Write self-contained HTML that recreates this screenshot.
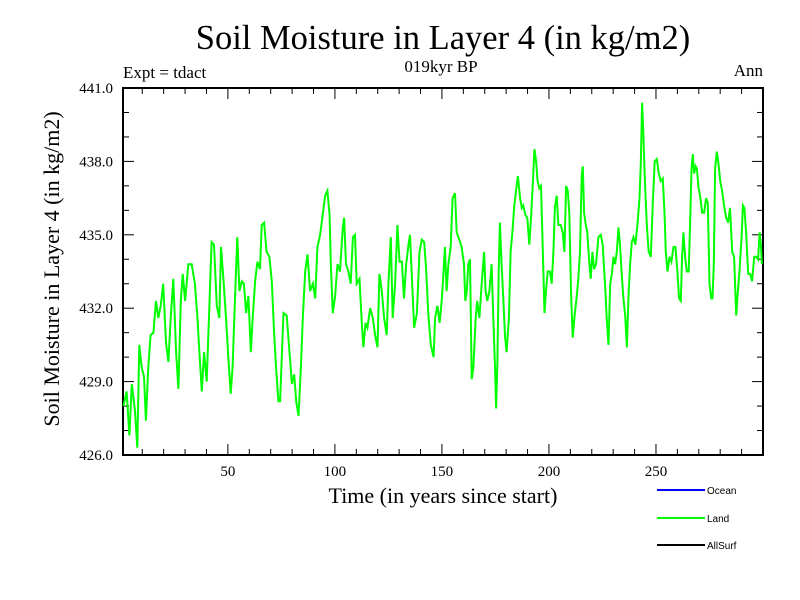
<!DOCTYPE html>
<html><head><meta charset="utf-8"><style>
html,body{margin:0;padding:0;background:#fff;width:800px;height:600px;overflow:hidden}
svg{display:block}
text{font-family:"Liberation Serif",serif;fill:#000}
</style></head><body>
<svg id="chart" width="800" height="600" viewBox="0 0 800 600">
<text x="443" y="49" font-size="34.5" text-anchor="middle">Soil Moisture in Layer 4 (in kg/m2)</text>
<text x="123" y="78" font-size="17">Expt = tdact</text>
<text x="441" y="72" font-size="17" text-anchor="middle">019kyr BP</text>
<text x="763" y="76" font-size="17" text-anchor="end">Ann</text>
<text transform="translate(59,269) rotate(-90)" font-size="22" text-anchor="middle">Soil Moisture in Layer 4 (in kg/m2)</text>
<text x="443" y="503" font-size="22" text-anchor="middle">Time (in years since start)</text>
<g id="axes"></g>
<g id="series"></g>
<g>
<g><line x1="657" y1="490" x2="705" y2="490" stroke="#0000ff" stroke-width="2"/><text x="707" y="494" font-size="10" style="font-family:'Liberation Sans',sans-serif">Ocean</text></g>
<g><line x1="657" y1="518" x2="705" y2="518" stroke="#00ff00" stroke-width="2"/><text x="707" y="522" font-size="10" style="font-family:'Liberation Sans',sans-serif">Land</text></g>
<g><line x1="657" y1="545" x2="705" y2="545" stroke="#000" stroke-width="2"/><text x="707" y="549" font-size="10" style="font-family:'Liberation Sans',sans-serif">AllSurf</text></g>
</g>
</svg>
<script>
const years=[1.2,2.7,4.0,5.1,6.6,7.7,8.6,9.7,10.8,11.7,12.8,13.9,15.2,16.4,17.5,18.6,19.8,21.1,22.2,23.3,24.5,25.8,26.9,28.0,28.9,30.0,31.5,33.1,34.6,35.7,36.7,37.8,38.9,40.1,41.3,42.4,43.5,44.8,46.0,46.8,47.9,49.1,50.2,51.3,52.2,53.3,54.4,55.4,56.5,57.5,58.5,59.6,60.7,61.6,62.7,63.8,65.0,65.8,66.9,68.1,69.4,70.5,71.6,72.5,73.6,
74.4,76.0,77.5,78.8,79.9,81.0,81.9,83.0,84.1,85.0,86.1,87.2,88.4,89.7,90.8,91.8,93.1,94.3,95.4,96.5,97.5,98.1,99.0,100.1,101.2,102.4,103.7,104.3,105.2,106.3,107.4,108.4,109.4,110.2,111.5,112.6,113.3,114.3,115.2,116.5,117.7,118.8,119.9,120.8,121.9,123.0,124.2,125.0,126.1,127.0,128.1,129.2,130.2,131.3,132.3,133.3,134.4,135.1,136.1,137.0,138.3,139.5,140.6,141.7,142.6,143.7,144.8,146.1,146.8,147.9,148.9,149.9,
150.7,151.4,152.2,153.0,154.1,155.0,156.1,156.9,158.1,159.2,160.3,160.9,161.6,162.3,163.1,163.9,164.7,165.8,166.5,167.5,168.6,169.7,170.4,171.2,172.2,173.2,174.0,174.8,175.3,175.9,176.5,177.1,177.9,178.7,179.5,180.2,181.3,182.1,182.9,183.7,184.6,185.5,186.5,187.3,188.0,189.0,189.9,190.8,191.6,192.4,193.2,194.0,194.7,195.5,196.3,197.1,197.9,198.6,199.4,200.5,201.3,202.1,202.8,203.6,204.4,205.5,206.4,207.2,208.0,208.8,209.5,210.3,211.1,212.0,213.0,213.7,214.5,215.3,215.8,216.4,217.2,217.9,218.9,219.5,220.3,221.1,222.0,223.1,
224.2,225.1,226.2,227.0,227.8,228.6,229.4,230.1,230.9,231.7,232.5,233.2,234.0,234.8,235.6,236.4,237.1,237.9,238.7,239.5,240.4,241.3,242.3,242.9,243.5,244.1,244.8,245.7,246.6,247.6,248.5,249.4,250.4,251.3,252.2,253.2,254.0,254.6,255.4,256.3,257.2,258.2,259.1,260.0,260.8,261.6,262.2,262.8,263.6,264.4,265.3,266.1,266.6,267.2,267.8,268.5,269.1,269.9,270.6,271.6,272.5,273.4,274.2,275.0,275.8,276.4,277.0,277.6,278.4,279.2,280.0,280.9,281.8,282.8,283.7,284.6,285.6,286.5,287.5,288.1,289.0,290.0,290.6,291.3,292.1,293.1,294.0,294.9,295.9,296.8,297.7,298.4,299.0,299.5];
const landValues=[428.0,428.6,426.8,428.9,427.8,426.3,430.5,429.6,429.2,427.4,429.6,430.9,431.0,432.3,431.6,432.1,433.0,430.6,429.8,431.6,433.2,430.2,428.7,432.3,433.4,432.3,433.8,433.8,433.0,431.7,430.2,428.6,430.2,429.0,432.0,434.7,434.6,432.1,431.6,434.5,433.2,431.6,430.0,428.5,429.6,432.3,434.9,432.7,433.1,433.0,431.8,432.5,430.2,431.6,433.1,433.9,433.6,435.4,435.5,434.3,434.1,433.1,431.0,429.6,428.2,
428.2,431.8,431.7,430.2,428.9,429.3,428.2,427.6,429.6,431.6,433.5,434.2,432.7,433.0,432.4,434.5,435.0,435.8,436.6,436.8,435.8,433.8,431.8,432.5,433.8,433.5,435.3,435.7,433.8,433.5,433.0,434.9,435.0,433.0,433.2,431.3,430.4,431.4,431.2,432.0,431.6,430.9,430.4,433.4,432.7,431.6,430.9,433.0,434.9,431.6,433.0,435.4,433.9,433.9,432.4,433.8,434.6,435.0,433.0,431.2,431.8,434.3,434.8,434.7,433.6,431.7,430.5,430.0,431.6,432.1,431.4,432.3,
433.4,434.5,432.7,433.8,434.5,436.5,436.7,435.1,434.8,434.5,433.8,432.3,432.7,433.8,434.0,429.1,429.6,431.6,432.3,431.6,433.0,434.3,432.7,432.3,432.7,433.8,431.6,429.6,427.9,429.8,433.5,435.5,433.8,432.3,430.8,430.2,431.6,434.3,435.1,436.1,436.8,437.4,436.5,436.1,436.2,435.8,435.7,434.6,435.7,437.0,438.5,438.0,437.2,436.9,437.0,434.5,431.8,432.7,433.5,433.5,433.0,434.3,436.1,436.6,435.4,435.4,435.1,434.3,437.0,436.8,435.9,432.7,430.8,431.7,432.5,433.2,434.3,437.4,437.8,435.9,435.4,435.1,433.8,433.2,434.3,433.6,433.8,434.9,
435.0,434.6,433.0,431.6,430.5,433.0,433.4,434.1,433.8,434.3,435.3,434.6,433.4,432.4,431.7,430.4,432.4,433.8,434.7,434.9,434.6,435.4,436.5,437.9,440.4,439.2,437.3,435.4,434.3,434.1,436.3,438.0,438.1,437.5,437.2,437.3,435.9,434.3,433.5,434.1,433.9,434.5,434.5,433.5,432.4,432.3,434.1,435.1,434.1,433.5,433.5,435.9,437.7,438.3,437.5,437.8,437.7,436.9,436.6,435.9,435.9,436.5,436.3,433.0,432.4,432.4,433.8,437.7,438.4,437.9,437.2,436.8,436.2,435.7,435.5,436.1,434.3,434.1,431.7,432.5,433.5,434.9,436.2,436.1,435.1,433.4,433.4,433.1,434.1,434.1,434.0,435.1,434.6,433.8];
const xTicks=[50,100,150,200,250];
const yTicks=[426.0,429.0,432.0,435.0,438.0,441.0];

const NS='http://www.w3.org/2000/svg';
const L=123,R=763,T=88,B=455,X0=1,X1=300,Y0=426,Y1=441;
const sx=v=>L+(v-X0)/(X1-X0)*(R-L);
const sy=v=>B-(v-Y0)/(Y1-Y0)*(B-T);
const axes=document.getElementById('axes');
function mk(tag,attrs,parent){const e=document.createElementNS(NS,tag);for(const k in attrs)e.setAttribute(k,attrs[k]);parent.appendChild(e);return e;}
const frame=mk('rect',{x:L,y:T,width:R-L,height:B-T,fill:'none',stroke:'#000','stroke-width':2},axes);


for(let v=10;v<X1;v+=10){const x=sx(v);const len=v%50===0?11:6;
 const t1=mk('line',{x1:x,y1:B,x2:x,y2:B-len,stroke:'#000','stroke-width':1},axes);
 
 
 const t2=mk('line',{x1:x,y1:T,x2:x,y2:T+len,stroke:'#000','stroke-width':1},axes);
 
 }
xTicks.forEach(v=>{const t=mk('text',{x:sx(v),y:476,'font-size':15,'text-anchor':'middle'},axes);t.textContent=v;
 
 });
for(let v=Y0+1;v<Y1;v+=1){const y=sy(v);const len=(v-Y0)%3===0?11:6;
 const t1=mk('line',{x1:L,y1:y,x2:L+len,y2:y,stroke:'#000','stroke-width':1},axes);
 
 
 const t2=mk('line',{x1:R,y1:y,x2:R-len,y2:y,stroke:'#000','stroke-width':1},axes);
 
 }
yTicks.forEach(v=>{const t=mk('text',{x:113,y:sy(v)+5,'font-size':15,'text-anchor':'end'},axes);t.textContent=v.toFixed(1);
 
 });
const pts=years.map((yr,i)=>sx(yr).toFixed(1)+','+sy(landValues[i]).toFixed(1)).join(' ');
const line=mk('polyline',{points:pts,fill:'none',stroke:'#00ff00','stroke-width':2,'stroke-linejoin':'miter'},document.getElementById('series'));


</script>
</body></html>
